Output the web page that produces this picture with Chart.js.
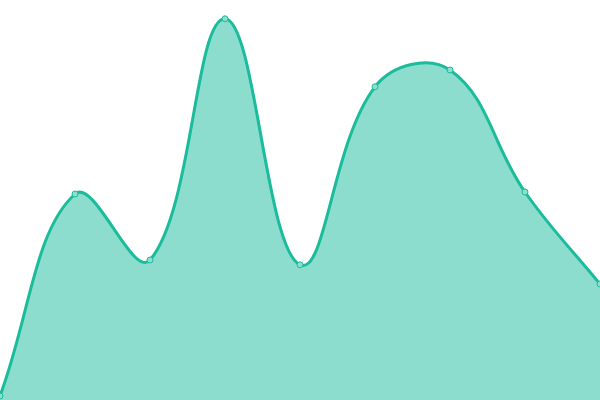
<!DOCTYPE html>
<html>
<head>
<meta charset="utf-8">
<script src="https://cdn.jsdelivr.net/npm/chart.js@4"></script>
<style>
  html, body { margin: 0; padding: 0; background: #fff; }
  #wrap { width: 600px; height: 400px; }
</style>
</head>
<body>
<div id="wrap"><canvas id="myChart"></canvas></div>
<script>
// data
const labels = ['1', '2', '3', '4', '5', '6', '7', '8', '9'];
const values = [1, 51.5, 35, 95.3, 33.8, 78.3, 82.5, 52, 29];
const yMin = 0;
const yMax = 100;

const ctx = document.getElementById('myChart');

new Chart(ctx, {
  type: 'line',
  data: {
    labels: labels,
    datasets: [{
      data: values,
      fill: 'start',
      backgroundColor: 'rgba(26, 188, 156, 0.5)',
      borderColor: '#1abc9c',
      borderWidth: 3,
      tension: 0.4,
      pointRadius: 3,
      pointBorderWidth: 1,
      pointBackgroundColor: 'rgba(140, 222, 205, 1)',
      pointBorderColor: '#1abc9c'
    }]
  },
  options: {
    responsive: true,
    maintainAspectRatio: false,
    animation: false,
    // no auto padding: chart area goes right to the canvas edges
    layout: { autoPadding: false, padding: 0 },
    plugins: {
      legend: { display: false },
      tooltip: { enabled: false }
    },
    scales: {
      x: { display: false, offset: false },
      y: { display: false, min: yMin, max: yMax }
    }
  }
});
</script>
</body>
</html>
